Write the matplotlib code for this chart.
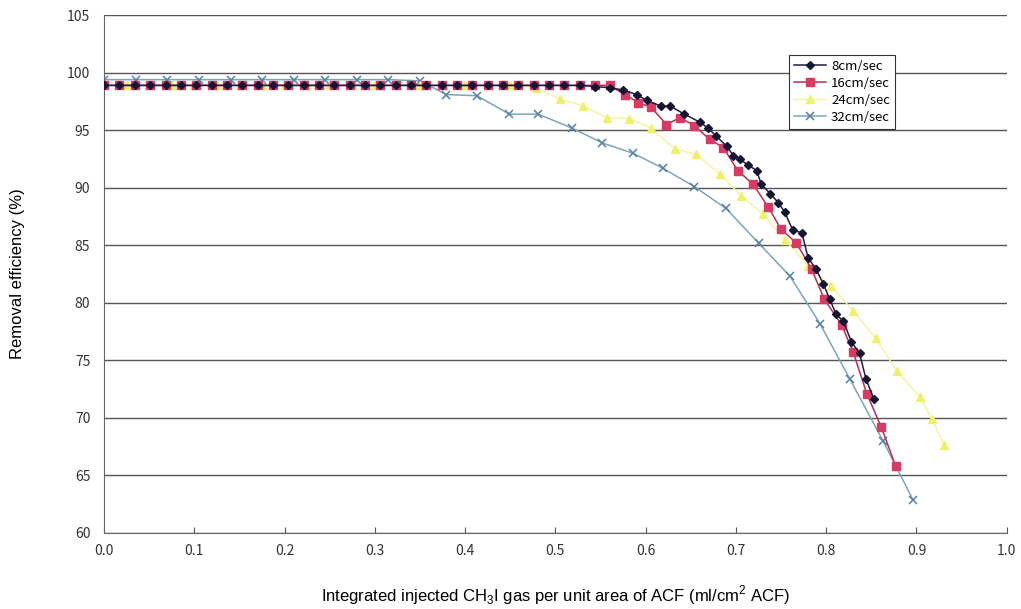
import matplotlib
matplotlib.use("Agg")
import matplotlib.pyplot as plt

plt.rcParams['font.family'] = ['Liberation Sans', 'DejaVu Sans']
plt.rcParams['mathtext.fontset'] = 'custom'
plt.rcParams['mathtext.rm'] = 'Liberation Sans'

# 8cm/sec
x_8 = [0.000, 0.017, 0.034, 0.051, 0.068, 0.085, 0.102, 0.119, 0.136, 0.153,
       0.170, 0.187, 0.204, 0.221, 0.238, 0.255, 0.272, 0.289, 0.306, 0.323,
       0.340, 0.357, 0.374, 0.391, 0.408, 0.425, 0.442, 0.459, 0.476, 0.493,
       0.510, 0.527, 0.544, 0.560, 0.575, 0.590, 0.601, 0.617, 0.627, 0.643,
       0.660, 0.669, 0.678, 0.690, 0.697, 0.704, 0.713, 0.723, 0.728, 0.738,
       0.747, 0.754, 0.763, 0.773, 0.780, 0.789, 0.797, 0.804, 0.811, 0.819,
       0.828, 0.837, 0.844, 0.853]
y_8 = [98.9, 98.9, 98.9, 98.9, 98.9, 98.9, 98.9, 98.9, 98.9, 98.9,
       98.9, 98.9, 98.9, 98.9, 98.9, 98.9, 98.9, 98.9, 98.9, 98.9,
       98.9, 98.9, 98.9, 98.9, 98.9, 98.9, 98.9, 98.9, 98.9, 98.9,
       98.9, 98.9, 98.8, 98.7, 98.5, 98.1, 97.6, 97.1, 97.1, 96.4,
       95.7, 95.2, 94.5, 93.6, 92.8, 92.5, 92.0, 91.5, 90.3, 89.5,
       88.7, 87.9, 86.3, 86.1, 83.9, 82.9, 81.6, 80.3, 79.0, 78.4,
       76.6, 75.6, 73.4, 71.6]

# 16cm/sec
x_16 = [0.000, 0.017, 0.034, 0.051, 0.068, 0.085, 0.102, 0.119, 0.136, 0.153,
        0.170, 0.187, 0.204, 0.221, 0.238, 0.255, 0.272, 0.289, 0.306, 0.323,
        0.340, 0.357, 0.374, 0.391, 0.408, 0.425, 0.442, 0.459, 0.476, 0.493,
        0.510, 0.527, 0.544, 0.560, 0.577, 0.592, 0.606, 0.623, 0.638, 0.654,
        0.671, 0.686, 0.702, 0.719, 0.736, 0.750, 0.767, 0.784, 0.798, 0.817,
        0.830, 0.845, 0.861, 0.877]
y_16 = [98.9, 98.9, 98.9, 98.9, 98.9, 98.9, 98.9, 98.9, 98.9, 98.9,
        98.9, 98.9, 98.9, 98.9, 98.9, 98.9, 98.9, 98.9, 98.9, 98.9,
        98.9, 98.9, 98.9, 98.9, 98.9, 98.9, 98.9, 98.9, 98.9, 98.9,
        98.9, 98.9, 98.9, 98.9, 98.1, 97.4, 97.0, 95.5, 96.1, 95.4,
        94.2, 93.5, 91.5, 90.3, 88.3, 86.4, 85.2, 82.9, 80.3, 78.1,
        75.7, 72.1, 69.2, 65.8]

# 24cm/sec
x_24 = [0.000, 0.025, 0.050, 0.075, 0.100, 0.125, 0.150, 0.175, 0.200, 0.225,
        0.250, 0.275, 0.300, 0.325, 0.350, 0.375, 0.400, 0.425, 0.450, 0.478,
        0.505, 0.531, 0.557, 0.582, 0.606, 0.632, 0.656, 0.682, 0.706, 0.730,
        0.754, 0.780, 0.805, 0.830, 0.855, 0.878, 0.904, 0.917, 0.931]
y_24 = [98.9, 98.9, 98.9, 98.9, 98.9, 98.9, 98.9, 98.9, 98.9, 98.9,
        98.9, 98.9, 98.9, 98.9, 98.9, 98.9, 98.9, 98.9, 98.9, 98.7,
        97.7, 97.1, 96.1, 96.0, 95.2, 93.4, 92.9, 91.2, 89.3, 87.7,
        85.5, 83.2, 81.5, 79.3, 76.9, 74.1, 71.8, 69.9, 67.6]

# 32cm/sec
x_32 = [0.000, 0.035, 0.070, 0.105, 0.140, 0.175, 0.210, 0.245, 0.280, 0.315,
        0.350, 0.379, 0.413, 0.449, 0.481, 0.518, 0.552, 0.586, 0.619, 0.654,
        0.689, 0.725, 0.760, 0.793, 0.826, 0.863, 0.896]
y_32 = [99.4, 99.4, 99.4, 99.4, 99.4, 99.4, 99.4, 99.4, 99.4, 99.4,
        99.3, 98.1, 98.0, 96.4, 96.4, 95.2, 93.9, 93.0, 91.7, 90.1,
        88.2, 85.2, 82.3, 78.2, 73.4, 68.0, 62.9]

fig = plt.figure(figsize=(10.21, 6.09), dpi=100)
ax = fig.add_axes([0.102, 0.125, 0.884, 0.850])

ax.plot(x_32, y_32, color='#7aa6b8', lw=1.1, marker='x', ms=5.5, mew=1.1,
        mec='#5580aa', label='32cm/sec', zorder=2)
ax.plot(x_24, y_24, color='#f4f49a', lw=1.0, marker='^', ms=5.5,
        mfc='#f0f06a', mec='#f0f06a', label='24cm/sec', zorder=3)
ax.plot(x_16, y_16, color='#b5304f', lw=1.1, marker='s', ms=5.5,
        mfc='#d83a63', mec='#d83a63', label='16cm/sec', zorder=4)
ax.plot(x_8, y_8, color='#1e1e40', lw=1.1, marker='D', ms=3.8,
        mfc='#151535', mec='#151535', label='8cm/sec', zorder=5)

ax.set_xlim(0, 1.0)
ax.set_ylim(60, 105)
ax.set_xticks([0.0, 0.1, 0.2, 0.3, 0.4, 0.5, 0.6, 0.7, 0.8, 0.9, 1.0])
ax.set_yticks([60, 65, 70, 75, 80, 85, 90, 95, 100, 105])
ax.xaxis.set_major_formatter(matplotlib.ticker.FormatStrFormatter('%.1f'))
ax.tick_params(axis='x', direction='in', length=4, color='#555555', pad=8)
ax.tick_params(axis='y', length=0, pad=10)
for lab in ax.get_xticklabels() + ax.get_yticklabels():
    lab.set_family(['Noto Sans CJK JP', 'DejaVu Sans'])
    lab.set_fontsize(10)
    lab.set_color('#333333')

ax.grid(axis='y', color='#555555', lw=1.0)
ax.set_axisbelow(True)
ax.spines['top'].set_visible(False)
ax.spines['right'].set_visible(False)
ax.spines['left'].set_color('#666666')
ax.spines['bottom'].set_color('#666666')

ax.set_ylabel('Removal efficiency (%)', fontsize=12, labelpad=30)
ax.set_xlabel(r'Integrated injected CH$_{3}$I gas per unit area of ACF (ml/cm$^{2}$ ACF)',
              fontsize=12, labelpad=18)

handles, labels = ax.get_legend_handles_labels()
leg = ax.legend(handles[::-1], labels[::-1], loc='upper left',
                bbox_to_anchor=(0.752, 0.935), frameon=True, fancybox=False,
                edgecolor='#333333', framealpha=1,
                handlelength=2.4, borderpad=0.35, labelspacing=0.3,
                handletextpad=0.4,
                prop={'family': ['Noto Sans CJK JP', 'DejaVu Sans'], 'size': 9.5})
leg.get_frame().set_linewidth(0.8)

plt.savefig('out.png', dpi=100)
